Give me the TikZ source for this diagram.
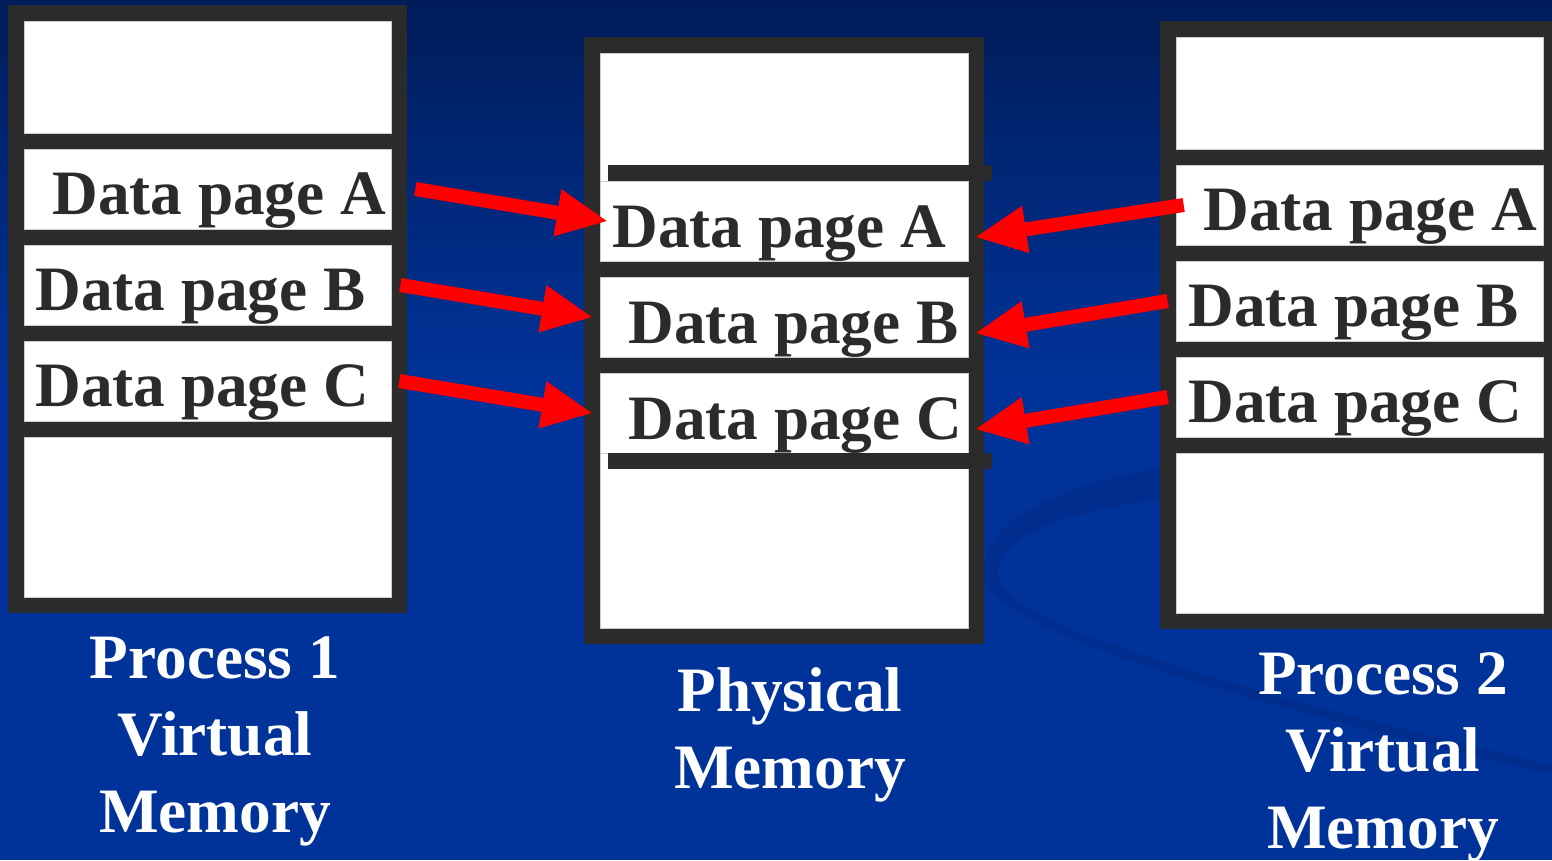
\documentclass[tikz,border=0pt]{standalone}
\usepackage{fontspec}
\setmainfont{Liberation Serif}
\usetikzlibrary{arrows.meta}

\definecolor{hgoben}{RGB}{0,28,90}
\definecolor{hgunten}{RGB}{0,51,153}
\definecolor{bogen}{RGB}{0,45,142}
\definecolor{rahmen}{RGB}{43,43,43}

\tikzset{
  zelle/.style={fill=white, draw=black!20, line width=0.4pt, inner sep=0pt,
    minimum width=7.34cm, minimum height=1.6cm},
  seitentext/.style={font=\fontsize{36}{44}\selectfont\bfseries, text=rahmen,
    inner sep=0pt, anchor=base west},
  titel/.style={font=\fontsize{36}{43.8}\selectfont\bfseries, text=white,
    align=center, inner sep=0pt, anchor=north},
  zuordnung/.style={red, line width=0.28cm,
    -{Triangle[length=1cm, width=0.96cm, line width=0pt]}},
}

\begin{document}
\begin{tikzpicture}[x=0.02cm, y=-0.02cm]
  \clip (0,0) rectangle (1552,860);

  % Hintergrund
  \fill[top color=hgoben, bottom color=hgunten] (0,0) rectangle (1552,380);
  \fill[hgunten] (0,380) rectangle (1552,860);
  \fill[bogen] (1160,468) .. controls (1060,485) and (985,520) .. (983,570)
    .. controls (982,620) and (1150,680) .. (1552,775)
    -- (1552,765) .. controls (1150,670) and (1000,615) .. (998,575)
    .. controls (996,535) and (1070,510) .. (1160,500) -- cycle;

  % Rahmen
  \fill[rahmen] (8,5) rectangle (407,613);
  \fill[rahmen] (584,37) rectangle (984,644);
  \fill[rahmen] (1160,21) rectangle (1559,629);

  % Prozess 1 (virtuell)
  \node[zelle, minimum height=2.24cm] (p1top) at (207.5,77) {};
  \node[zelle] (p1a) at (207.5,189) {};
  \node[zelle] (p1b) at (207.5,285) {};
  \node[zelle] (p1c) at (207.5,381) {};
  \node[zelle, minimum height=3.2cm] (p1bot) at (207.5,517) {};

  % physischer Speicher
  \node[zelle, minimum width=7.36cm, minimum height=2.56cm] (pmtop) at (784,117) {};
  \node[zelle, minimum width=7.36cm] (pmA) at (784,221) {};
  \node[zelle, minimum width=7.36cm] (pmB) at (784,317) {};
  \node[zelle, minimum width=7.36cm] (pmC) at (784,413) {};
  \node[zelle, minimum width=7.36cm, minimum height=3.5cm] (pmbot) at (784,540.5) {};
  \fill[rahmen] (608,165) rectangle (992,181);
  \fill[rahmen] (608,453) rectangle (992,469);

  % Prozess 2 (virtuell)
  \node[zelle, minimum height=2.24cm] (p2top) at (1359.5,93) {};
  \node[zelle] (p2a) at (1359.5,205) {};
  \node[zelle] (p2b) at (1359.5,301) {};
  \node[zelle] (p2c) at (1359.5,397) {};
  \node[zelle, minimum height=3.2cm] (p2bot) at (1359.5,533) {};

  % Seitenbeschriftung
  \node[seitentext] (t1a) at (52,214) {Data page A};
  \node[seitentext] (t1b) at (35,310) {Data page B};
  \node[seitentext] (t1c) at (35,406) {Data page C};
  \node[seitentext] (tma) at (612,247) {Data page A};
  \node[seitentext] (tmb) at (628,343) {Data page B};
  \node[seitentext] (tmc) at (628,439) {Data page C};
  \node[seitentext] (t2a) at (1203,230) {Data page A};
  \node[seitentext] (t2b) at (1188,326) {Data page B};
  \node[seitentext] (t2c) at (1188,422) {Data page C};

  % Pfeile
  \draw[zuordnung] ([xshift=0.48cm]p1a.east) -- ([xshift=0.14cm]pmA.west);
  \draw[zuordnung] ([xshift=0.18cm]p1b.east) -- ([xshift=-0.16cm]pmB.west);
  \draw[zuordnung] ([xshift=0.16cm]p1c.east) -- ([xshift=-0.16cm]pmC.west);
  \draw[zuordnung] ([xshift=0.16cm]p2a.west) -- ([xshift=0.16cm,yshift=-0.32cm]pmA.east);
  \draw[zuordnung] ([xshift=-0.16cm]p2b.west) -- ([xshift=0.16cm,yshift=-0.32cm]pmB.east);
  \draw[zuordnung] ([xshift=-0.16cm]p2c.west) -- ([xshift=0.16cm,yshift=-0.32cm]pmC.east);

  % Titel
  \node[titel] (l1) at (215,636) {Process 1\\Virtual\\Memory};
  \node[titel] (lm) at (790,667) {Physical\\Memory};
  \node[titel] (l2) at (1383,652) {Process 2\\Virtual\\Memory};
\end{tikzpicture}
\end{document}
